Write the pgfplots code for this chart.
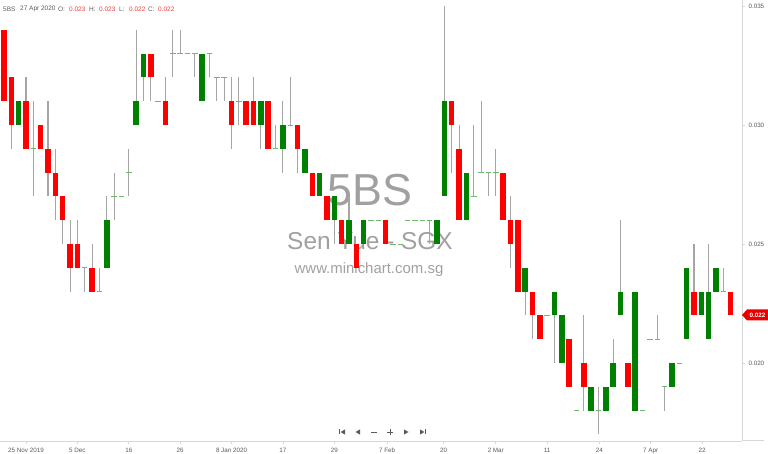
\documentclass[border=0pt]{standalone}
\usepackage{fontspec}
\setmainfont{Liberation Sans}
\usepackage{pgfplots}
\usepackage{pgfplotstable}
\pgfplotsset{compat=1.18}

\definecolor{upg}{RGB}{0,128,0}
\definecolor{dnr}{RGB}{255,0,0}
\definecolor{wick}{RGB}{165,165,165}
\definecolor{doji}{RGB}{110,185,110}
\definecolor{wm}{RGB}{160,160,160}
\definecolor{lbl}{RGB}{90,90,90}
\definecolor{hred}{RGB}{240,60,60}
\definecolor{axl}{RGB}{215,215,215}

% daily candles, 25 Nov 2019 .. 27 Apr 2020 (i = bar number)
\pgfplotstableread{
i  o     h     l     c
0  0.034 0.034 0.031 0.031
1  0.032 0.032 0.029 0.030
2  0.030 0.031 0.030 0.031
3  0.031 0.032 0.029 0.029
4  0.029 0.031 0.027 0.029
5  0.030 0.030 0.029 0.029
6  0.029 0.031 0.027 0.028
7  0.028 0.029 0.026 0.027
8  0.027 0.027 0.025 0.026
9  0.025 0.026 0.023 0.024
10 0.025 0.026 0.024 0.024
11 0.024 0.024 0.023 0.024
12 0.024 0.025 0.023 0.023
13 0.023 0.024 0.023 0.023
14 0.024 0.027 0.024 0.026
15 0.027 0.028 0.026 0.027
16 0.027 0.027 0.027 0.027
17 0.028 0.029 0.027 0.028
18 0.030 0.034 0.030 0.031
19 0.032 0.033 0.031 0.033
20 0.033 0.033 0.031 0.032
21 0.031 0.031 0.031 0.031
22 0.031 0.032 0.030 0.030
23 0.033 0.034 0.032 0.033
24 0.033 0.034 0.033 0.033
25 0.033 0.033 0.033 0.033
26 0.033 0.033 0.032 0.033
27 0.031 0.033 0.031 0.033
28 0.033 0.033 0.032 0.033
29 0.032 0.032 0.031 0.032
30 0.032 0.032 0.031 0.032
31 0.031 0.032 0.029 0.030
32 0.031 0.032 0.030 0.031
33 0.031 0.031 0.030 0.030
34 0.031 0.032 0.030 0.030
35 0.030 0.031 0.029 0.031
36 0.031 0.031 0.029 0.029
37 0.029 0.030 0.029 0.029
38 0.029 0.031 0.028 0.030
39 0.030 0.032 0.030 0.030
40 0.030 0.030 0.028 0.029
41 0.028 0.029 0.028 0.029
42 0.028 0.028 0.027 0.027
43 0.027 0.028 0.027 0.028
44 0.027 0.027 0.026 0.026
45 0.026 0.027 0.025 0.027
46 0.026 0.026 0.025 0.025
47 0.025 0.027 0.025 0.026
48 0.025 0.025 0.024 0.024
49 0.025 0.026 0.025 0.026
50 0.026 0.026 0.026 0.026
51 0.026 0.026 0.026 0.026
52 0.026 0.026 0.025 0.025
53 0.025 0.025 0.025 0.025
54 0.025 0.025 0.025 0.025
55 0.026 0.026 0.026 0.026
56 0.026 0.026 0.026 0.026
57 0.026 0.026 0.026 0.026
58 0.026 0.026 0.025 0.026
59 0.025 0.026 0.025 0.026
60 0.027 0.035 0.027 0.031
61 0.031 0.031 0.028 0.030
62 0.029 0.030 0.026 0.026
63 0.026 0.028 0.026 0.028
64 0.027 0.030 0.027 0.027
65 0.028 0.031 0.028 0.028
66 0.028 0.028 0.027 0.028
67 0.028 0.029 0.027 0.028
68 0.028 0.028 0.026 0.026
69 0.026 0.027 0.024 0.025
70 0.026 0.026 0.023 0.023
71 0.023 0.024 0.022 0.024
72 0.023 0.023 0.021 0.022
73 0.022 0.022 0.021 0.021
74 0.022 0.022 0.022 0.022
75 0.022 0.023 0.020 0.023
76 0.020 0.022 0.020 0.022
77 0.021 0.021 0.019 0.019
78 0.018 0.018 0.018 0.018
79 0.020 0.022 0.018 0.019
80 0.018 0.019 0.018 0.019
81 0.018 0.019 0.017 0.018
82 0.018 0.019 0.018 0.019
83 0.019 0.021 0.019 0.020
84 0.022 0.026 0.022 0.023
85 0.020 0.020 0.019 0.019
86 0.018 0.023 0.018 0.023
87 0.018 0.018 0.018 0.018
88 0.021 0.021 0.021 0.021
89 0.021 0.022 0.021 0.021
90 0.019 0.019 0.018 0.019
91 0.019 0.020 0.019 0.020
92 0.020 0.020 0.020 0.020
93 0.021 0.024 0.021 0.024
94 0.023 0.025 0.022 0.022
95 0.022 0.023 0.022 0.023
96 0.021 0.025 0.021 0.023
97 0.023 0.024 0.023 0.024
98 0.023 0.024 0.023 0.023
99 0.023 0.023 0.022 0.022
}\candles

\pgfplotsset{
    body/.style={only marks, mark=*, mark options={draw=none, fill=none, scale=0},
        error bars/.cd, y dir=both, y explicit, error mark=none,
        error bar style={draw=#1, line width=5.5bp}},
}

\begin{document}
\begin{tikzpicture}
\begin{axis}[
    scale only axis,
    width=742bp, height=441bp,
    xmin=-0.545, xmax=100.545,
    ymin=0.016723, ymax=0.03525,
    axis x line*=bottom,
    axis y line*=right,
    axis line style={draw=axl, line width=1bp},
    tick align=outside,
    major tick length=2.5bp,
    tick style={draw=axl, line width=0.8bp},
    xtick={3,10,17,24,31,38,45,52.2,59.9,67,74,81.1,88.1,95.1},
    xticklabels={25 Nov 2019, 5 Dec, 16, 26, 8 Jan 2020, 17, 29, 7 Feb, 20, 2 Mar, 11, 24, 7 Apr, 22},
    ytick={0.020,0.025,0.030,0.035},
    yticklabel pos=right,
    /pgf/number format/assume math mode=true,
    yticklabel style={/pgf/number format/fixed, /pgf/number format/precision=3,
        /pgf/number format/fixed zerofill, anchor=west, xshift=0.5bp},
    scaled y ticks=false,
    ticklabel style={font=\fontsize{6.3}{7}\selectfont, text=lbl},
    xticklabel style={anchor=north, text height=4.6bp, text depth=1.3bp, yshift=-0.5bp},
    clip=false,
]
% picture corners: 768 x 454 px, plot box 742 x 441 px at the top left
\coordinate (bbsw) at (axis description cs:0,-0.029478);
\coordinate (bbne) at (axis description cs:1.035040,1);
% watermark, behind the candles
\node[wm,font=\fontsize{45}{45}\selectfont] at (axis description cs:0.49865,0.56916) {5BS};
\node[wm,font=\fontsize{24.5}{25}\selectfont] at (axis description cs:0.49865,0.45351) {Sen Yue - SGX};
\node[wm,font=\fontsize{15}{15}\selectfont] at (axis description cs:0.49730,0.38776) {www.minichart.com.sg};
% wicks
\addplot[body=wick, error bar style={line width=1.1bp}]
    table[x=i, y expr={(\thisrow{h}+\thisrow{l})/2}, y error expr={(\thisrow{h}-\thisrow{l})/2}] {\candles};
% open = close
\addplot[only marks, mark=-, mark size=2.75bp, mark options={draw=doji, line width=0.8bp}]
    table[x=i, y expr={\thisrow{c}==\thisrow{o} ? \thisrow{c} : nan}] {\candles};
% falling bodies
\addplot[body=dnr]
    table[x=i, y expr={\thisrow{c}<\thisrow{o} ? (\thisrow{o}+\thisrow{c})/2 : nan},
        y error expr={(\thisrow{o}-\thisrow{c})/2}] {\candles};
% rising bodies
\addplot[body=upg]
    table[x=i, y expr={\thisrow{c}>\thisrow{o} ? (\thisrow{o}+\thisrow{c})/2 : nan},
        y error expr={(\thisrow{c}-\thisrow{o})/2}] {\candles};
\end{axis}

\begin{scope}[shift={(bbsw)}, x=1bp, y=1bp]
% bottom rule runs past the price scale
\draw[axl, line width=1bp] (742,13) -- (764,13);

% last price tag
\fill[dnr!92!black] (742,139) -- (747,144.5) -- (768,144.5) -- (768,133.5) -- (747,133.5) -- cycle;
\node[white, font=\fontsize{6.3}{7}\selectfont\bfseries] at (757.5,139) {0.022};

% header
\begin{scope}[font=\fontsize{6.5}{7}\selectfont, inner sep=0pt, anchor=west]
\node[lbl] at (3,445) {5BS};
\node[lbl] at (20,445) {27 Apr 2020};
\node[lbl] at (58,445) {O:};
\node[hred] at (69,445) {0.023};
\node[lbl] at (89,445) {H:};
\node[hred] at (99,445) {0.023};
\node[lbl] at (119,445) {L:};
\node[hred] at (129,445) {0.022};
\node[lbl] at (148,445) {C:};
\node[hred] at (158,445) {0.022};
\end{scope}

% navigation buttons
\begin{scope}[lbl]
\fill (339.2,19.5) rectangle (340.2,24.5);
\fill (340.6,22) -- (345,24.6) -- (345,19.4) -- cycle;
\fill (355.5,22) -- (360,24.6) -- (360,19.4) -- cycle;
\draw[line width=0.9bp] (371,22) -- (377,22);
\draw[line width=0.9bp] (387,22) -- (393,22) (390,19) -- (390,25);
\fill (408.5,22) -- (404,24.6) -- (404,19.4) -- cycle;
\fill (424.4,22) -- (420,24.6) -- (420,19.4) -- cycle;
\fill (424.8,19.5) rectangle (425.8,24.5);
\end{scope}
\end{scope}

\pgfresetboundingbox
\path[use as bounding box] (bbsw) rectangle (bbne);
\end{tikzpicture}
\end{document}
